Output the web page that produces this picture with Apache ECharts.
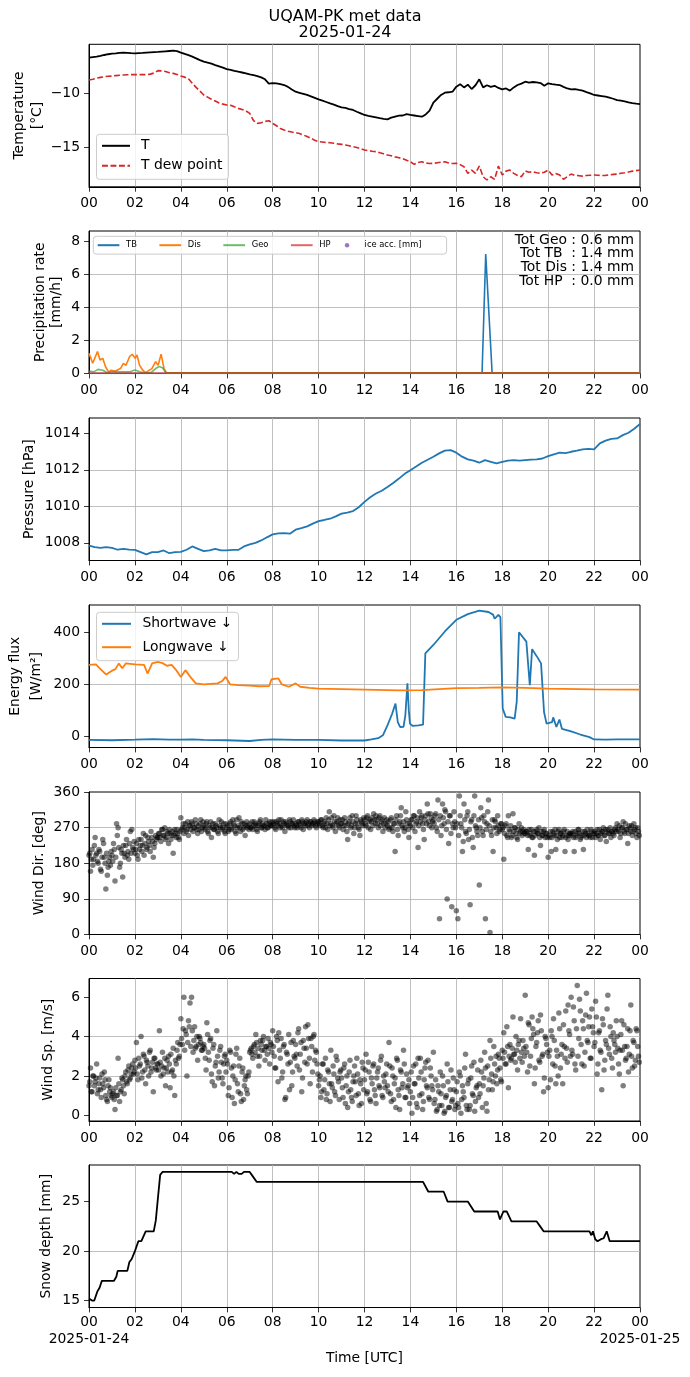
<!DOCTYPE html>
<html>
<head>
<meta charset="utf-8">
<title>UQAM-PK met data</title>
<script src="https://cdn.jsdelivr.net/npm/echarts@6.0.0/dist/echarts.min.js"></script>
<style>
    html, body { margin: 0; padding: 0; background: #fff; }
    #main { width: 690px; height: 1377px; }
</style>
</head>
<body>
<div id="main"></div>
<script>
// values

// air temperature and dew point, 10 min steps from 00:00 [degC]
var tempT = [
    -6.70, -6.65, -6.60, -6.54, -6.45, -6.38,
    -6.33, -6.30, -6.26, -6.23, -6.25, -6.28,
    -6.30, -6.28, -6.26, -6.23, -6.21, -6.19,
    -6.17, -6.14, -6.11, -6.08, -6.05, -6.10,
    -6.23, -6.35, -6.47, -6.60, -6.76, -6.92,
    -7.07, -7.15, -7.25, -7.38, -7.50, -7.62,
    -7.75, -7.83, -7.92, -8.00, -8.07, -8.15,
    -8.24, -8.32, -8.40, -8.52, -8.70, -9.10,
    -9.05, -9.08, -9.15, -9.23, -9.40, -9.65,
    -9.85, -9.95, -10.05, -10.15, -10.28, -10.42,
    -10.56, -10.68, -10.80, -10.93, -11.05, -11.18,
    -11.30, -11.35, -11.45, -11.54, -11.70, -11.85,
    -12.00, -12.08, -12.15, -12.22, -12.30, -12.36,
    -12.41, -12.25, -12.15, -12.07, -12.05, -11.92,
    -12.00, -12.05, -12.10, -12.16, -11.95, -11.60,
    -10.85, -10.50, -10.15, -9.94, -9.90, -9.85,
    -9.38, -9.15, -9.45, -9.20, -9.60, -9.25,
    -8.70, -9.45, -9.25, -9.40, -9.30, -9.50,
    -9.63, -9.55, -9.75, -9.45, -9.23, -9.10,
    -8.92, -9.00, -8.95, -8.98, -9.05, -9.30,
    -9.07, -9.15, -9.20, -9.23, -9.40, -9.55,
    -9.63, -9.60, -9.68, -9.75, -9.88, -10.00,
    -10.15, -10.20, -10.25, -10.31, -10.40, -10.50,
    -10.62, -10.68, -10.75, -10.83, -10.90, -10.95,
    -10.99
];
var tempTd = [
    -8.77, -8.70, -8.60, -8.52, -8.46, -8.42,
    -8.40, -8.36, -8.33, -8.30, -8.28, -8.27,
    -8.27, -8.27, -8.27, -8.27, -8.22, -8.12,
    -7.90, -7.92, -7.98, -8.09, -8.15, -8.25,
    -8.40, -8.50, -8.65, -9.07, -9.45, -9.80,
    -10.15, -10.35, -10.55, -10.71, -10.90, -11.00,
    -11.08, -11.10, -11.25, -11.39, -11.50, -11.62,
    -11.85, -12.53, -12.78, -12.72, -12.60, -12.53,
    -12.78, -13.00, -13.25, -13.40, -13.50, -13.58,
    -13.64, -13.72, -13.85, -14.00, -14.15, -14.35,
    -14.48, -14.50, -14.55, -14.57, -14.62, -14.68,
    -14.72, -14.78, -14.85, -14.94, -15.02, -15.12,
    -15.25, -15.30, -15.36, -15.40, -15.50, -15.60,
    -15.71, -15.78, -15.88, -15.96, -16.05, -16.20,
    -16.33, -16.57, -16.40, -16.33, -16.45, -16.50,
    -16.48, -16.42, -16.38, -16.33, -16.45, -16.50,
    -16.48, -16.60, -16.79, -17.41, -17.10, -17.40,
    -16.73, -17.72, -18.02, -17.72, -17.96, -16.73,
    -17.56, -17.20, -17.10, -17.41, -17.60, -17.72,
    -17.19, -17.30, -17.25, -17.35, -17.40, -17.30,
    -17.10, -17.56, -17.41, -17.55, -17.96, -17.70,
    -17.47, -17.60, -17.62, -17.66, -17.60, -17.58,
    -17.56, -17.58, -17.60, -17.59, -17.55, -17.50,
    -17.47, -17.40, -17.35, -17.28, -17.20, -17.15,
    -17.10
];

// precipitation rate [mm/h], [hour, value]
var precipTB = [[0, 0], [17.12, 0], [17.28, 7.25], [17.56, 0], [24, 0]];
var precipDis = [
    [0, 1.23], [0.16, 0.62], [0.37, 1.33], [0.48, 0.82], [0.6, 0.92], [0.72, 0.41],
    [0.85, 0.1], [0.97, 0.2], [1.13, 0.14], [1.37, 0.3], [1.5, 0.62], [1.61, 0.5],
    [1.77, 1.03], [1.88, 1.17], [2.01, 0.92], [2.09, 1.13], [2.2, 0.51], [2.34, 0.2],
    [2.46, 0.05], [2.74, 0.3], [2.9, 0.72], [3.01, 0.5], [3.14, 1.17], [3.27, 0.3],
    [3.38, 0.04], [24, 0.04]
];
var precipGeo = [
    [0, 0.15], [0.2, 0.1], [0.4, 0.25], [0.6, 0.2], [0.8, 0.05], [1.0, 0.12],
    [1.2, 0.1], [1.5, 0.1], [1.8, 0.1], [2.0, 0.22], [2.2, 0.1], [2.4, 0.05],
    [2.7, 0.05], [2.9, 0.3], [3.05, 0.42], [3.2, 0.35], [3.35, 0.04], [24, 0.03]
];
var precipHP = [[0, 0.03], [24, 0.03]];
var iceAcc = [];
var precipTotals = ["Tot Geo : 0.6 mm", "Tot TB  : 1.4 mm", "Tot Dis : 1.4 mm", "Tot HP  : 0.0 mm"];

// station pressure, 15 min steps [hPa]
var pressure = [
    1007.85, 1007.76, 1007.72, 1007.76,
    1007.72, 1007.62, 1007.67, 1007.63,
    1007.61, 1007.49, 1007.37, 1007.49,
    1007.49, 1007.58, 1007.43, 1007.49,
    1007.50, 1007.62, 1007.80, 1007.67,
    1007.54, 1007.58, 1007.67, 1007.58,
    1007.58, 1007.61, 1007.61, 1007.80,
    1007.91, 1008.00, 1008.13, 1008.30,
    1008.46, 1008.52, 1008.53, 1008.50,
    1008.72, 1008.80, 1008.90, 1009.05,
    1009.19, 1009.25, 1009.32, 1009.45,
    1009.60, 1009.66, 1009.74, 1009.95,
    1010.24, 1010.50, 1010.70, 1010.85,
    1011.06, 1011.28, 1011.52, 1011.78,
    1011.98, 1012.18, 1012.39, 1012.55,
    1012.72, 1012.90, 1013.05, 1013.08,
    1012.94, 1012.72, 1012.57, 1012.50,
    1012.39, 1012.53, 1012.44, 1012.35,
    1012.44, 1012.50, 1012.53, 1012.50,
    1012.53, 1012.56, 1012.57, 1012.62,
    1012.75, 1012.85, 1012.94, 1012.92,
    1012.99, 1013.05, 1013.12, 1013.15,
    1013.12, 1013.45, 1013.60, 1013.70,
    1013.72, 1013.90, 1014.03, 1014.25,
    1014.51
];

// radiation [W/m2], [hour, value]
var shortwave = [
    [0, -15], [1, -16], [2, -14], [2.8, -12], [3.5, -14], [4, -14], [4.5, -13], [5, -15],
    [6, -16], [7, -19], [7.5, -15], [8, -13], [9, -15], [10, -15], [11, -17], [12, -17],
    [12.3, -13], [12.6, -8], [12.8, 3], [13.0, 41], [13.2, 85], [13.35, 125], [13.45, 54],
    [13.55, 35], [13.7, 36], [13.78, 80], [13.87, 203], [13.93, 99], [13.98, 48], [14.1, 39],
    [14.35, 41], [14.55, 44], [14.65, 319], [15.0, 351], [15.5, 403], [16.0, 448], [16.5, 470],
    [17.0, 483], [17.4, 478], [17.6, 468], [17.67, 452], [17.83, 467], [17.92, 458],
    [18.02, 106], [18.15, 74], [18.35, 72], [18.54, 67], [18.63, 132], [18.73, 400],
    [19.05, 364], [19.2, 196], [19.3, 335], [19.5, 308], [19.69, 280], [19.82, 93],
    [19.93, 48], [20.17, 54], [20.22, 72], [20.36, 35], [20.49, 64], [20.6, 28],
    [21.0, 18], [21.4, 6], [21.8, -4], [22.0, -13], [22.5, -14], [23, -13], [24, -13]
];
var longwave = [
    [0, 274], [0.3, 276], [0.5, 258], [0.75, 237], [1.0, 252], [1.15, 258], [1.3, 280],
    [1.45, 261], [1.6, 280], [2.0, 276], [2.4, 274], [2.55, 241], [2.75, 280], [3.0, 286],
    [3.2, 281], [3.4, 271], [3.6, 274], [3.8, 254], [4.0, 228], [4.2, 254], [4.45, 224],
    [4.65, 203], [5.0, 199], [5.6, 203], [5.8, 212], [5.95, 228], [6.15, 199], [6.5, 196],
    [7.0, 194], [7.4, 192], [7.85, 193], [7.95, 219], [8.25, 222], [8.4, 199], [8.7, 190],
    [9.0, 203], [9.2, 190], [9.6, 186], [10, 183], [12, 179], [13.5, 176], [14.5, 177],
    [16, 185], [17, 186], [18, 188], [19, 186], [20, 183], [22, 180], [24, 179]
];

// wind direction [deg], 4 min steps, one row per hour (A: on the 4 min, B: 2 min later)
var windDirA = [
    200, 160, 215, 190, 245, 205, 180, 210, 160, 240, 195, 115, 150, 185, 175,
    200, 230, 135, 280, 270, 170, 215, 145, 205, 225, 200, 190, 260, 265, 215,
    205, 230, 190, 215, 240, 225, 200, 250, 220, 235, 210, 245, 195, 230, 240,
    245, 255, 235, 265, 250, 240, 260, 230, 255, 250, 205, 265, 245, 255, 240,
    295, 270, 255, 280, 265, 250, 275, 285, 260, 270, 280, 255, 265, 290, 270,
    275, 265, 285, 255, 270, 245, 280, 265, 275, 260, 290, 270, 265, 280, 255,
    270, 260, 280, 265, 290, 275, 255, 270, 295, 260, 280, 270, 250, 285, 275,
    280, 270, 265, 285, 275, 260, 280, 290, 270, 275, 265, 280, 270, 285, 275,
    275, 285, 265, 280, 290, 270, 275, 285, 260, 280, 275, 290, 270, 280, 275,
    280, 270, 285, 275, 290, 265, 280, 285, 275, 270, 285, 280, 290, 275, 280,
    285, 275, 290, 270, 280, 295, 265, 310, 280, 275, 300, 260, 285, 275, 290,
    280, 265, 295, 275, 240, 285, 270, 300, 255, 280, 290, 270, 250, 285, 275,
    290, 275, 300, 285, 265, 295, 305, 280, 290, 270, 300, 285, 260, 295, 280,
    275, 265, 290, 270, 280, 210, 300, 250, 285, 320, 270, 260, 310, 280, 245,
    275, 290, 300, 260, 285, 220, 310, 295, 280, 240, 300, 330, 285, 305, 270,
    290, 300, 270, 340, 40, 250, 330, 280, 310, 90, 230, 300, 70, 270, 285,
    60, 40, 350, 280, 210, 330, 260, 300, 240, 75, 290, 220, 350, 270, 250,
    125, 320, 260, 300, 40, 280, 340, 5, 250, 210, 290, 270, 300, 260, 280,
    265, 190, 275, 250, 300, 260, 245, 305, 270, 255, 240, 280, 260, 250, 265,
    255, 260, 215, 250, 265, 245, 200, 260, 255, 270, 225, 250, 260, 245, 255,
    195, 245, 210, 260, 250, 215, 240, 265, 255, 245, 260, 210, 250, 240, 255,
    250, 260, 210, 245, 255, 265, 240, 250, 215, 260, 245, 255, 250, 265, 245,
    255, 245, 265, 250, 240, 260, 270, 250, 235, 265, 255, 245, 260, 250, 270,
    280, 260, 245, 270, 285, 255, 265, 230, 275, 260, 250, 280, 270, 245, 260
];
var windDirB = [
    205, 190, 175, 225, 200, 185, 215, 165, 195, 230, 180, 205, 170, 195, 210,
    185, 215, 195, 250, 220, 180, 205, 225, 195, 240, 210, 230, 205, 220, 235,
    215, 200, 240, 225, 210, 255, 230, 215, 245, 225, 260, 235, 220, 250, 245,
    255, 245, 265, 250, 270, 245, 255, 265, 240, 260, 250, 255, 265, 245, 260,
    265, 280, 270, 260, 285, 275, 265, 280, 270, 290, 265, 275, 280, 260, 285,
    270, 280, 260, 275, 285, 270, 265, 280, 270, 255, 275, 285, 270, 260, 280,
    275, 265, 285, 270, 280, 260, 290, 275, 270, 285, 265, 280, 275, 270, 265,
    270, 285, 275, 280, 265, 275, 285, 270, 280, 275, 290, 270, 280, 275, 285,
    280, 270, 285, 275, 280, 290, 270, 280, 285, 275, 270, 285, 280, 290, 270,
    275, 285, 280, 270, 285, 280, 275, 290, 280, 285, 275, 280, 285, 270, 285,
    280, 290, 275, 285, 270, 280, 290, 275, 295, 270, 285, 280, 295, 270, 280,
    290, 275, 285, 260, 280, 295, 275, 285, 270, 300, 280, 265, 290, 280, 295,
    280, 295, 270, 290, 285, 275, 290, 300, 280, 295, 275, 290, 280, 270, 290,
    285, 270, 295, 260, 280, 290, 265, 280, 300, 275, 285, 270, 290, 265, 280,
    290, 270, 300, 280, 295, 275, 285, 300, 265, 290, 280, 305, 275, 295, 285,
    280, 305, 260, 290, 300, 275, 295, 315, 265, 285, 300, 255, 280, 310, 270,
    280, 250, 300, 270, 235, 290, 255, 310, 265, 285, 245, 300, 275, 260, 290,
    270, 295, 250, 285, 265, 310, 275, 260, 290, 270, 285, 255, 275, 265, 280,
    270, 255, 280, 245, 265, 275, 250, 260, 270, 245, 265, 255, 270, 260, 255,
    260, 250, 265, 255, 245, 260, 250, 265, 255, 245, 260, 250, 265, 255, 245,
    250, 260, 245, 255, 265, 250, 260, 245, 255, 250, 265, 245, 260, 250, 255,
    255, 245, 260, 250, 265, 255, 245, 260, 250, 255, 265, 250, 245, 260, 255,
    260, 255, 250, 265, 255, 260, 250, 265, 260, 255, 270, 260, 255, 265, 260,
    265, 275, 255, 270, 260, 280, 265, 255, 270, 275, 260, 265, 255, 270, 250
];

// wind speed [m/s], same timing as wind direction
var windSpdA = [
    1.5, 2.4, 1.2, 2.0, 1.7, 2.6, 1.3, 1.9, 0.9, 1.6, 2.2, 1.0, 0.7, 1.8, 1.4,
    0.9, 1.2, 0.3, 1.0, 2.9, 0.7, 1.3, 1.8, 1.1, 2.2, 1.6, 2.5, 1.9, 2.4, 2.1,
    2.8, 3.7, 1.8, 2.5, 4.0, 2.2, 3.0, 1.6, 2.7, 2.0, 3.3, 2.4, 1.2, 2.9, 2.3,
    2.6, 4.3, 2.0, 3.2, 2.4, 1.5, 2.8, 3.0, 1.4, 2.2, 3.4, 1.0, 2.6, 3.7, 3.0,
    4.9, 3.6, 6.0, 4.3, 2.0, 4.8, 5.7, 6.0, 3.2, 4.5, 3.5, 2.8, 4.0, 3.7, 3.3,
    3.6, 2.9, 4.7, 3.2, 3.8, 2.1, 3.4, 1.5, 2.7, 3.0, 2.2, 3.5, 1.9, 2.6, 3.1,
    2.8, 1.0, 3.3, 2.4, 2.0, 0.6, 3.1, 1.6, 2.5, 1.1, 2.2, 0.8, 1.8, 1.3, 2.0,
    3.2, 3.4, 2.9, 3.6, 4.1, 3.0, 2.5, 3.8, 3.3, 4.0, 2.8, 3.5, 3.9, 2.6, 3.6,
    4.3, 3.0, 2.4, 3.8, 4.2, 2.9, 1.9, 3.5, 0.8, 3.2, 2.6, 1.3, 3.7, 2.2, 3.0,
    3.6, 2.5, 4.4, 3.1, 1.2, 3.8, 2.7, 3.4, 4.6, 2.9, 3.9, 2.2, 4.1, 3.3, 2.6,
    1.5, 2.0, 1.2, 2.6, 1.8, 0.8, 2.3, 1.6, 3.3, 1.4, 2.1, 1.0, 2.8, 1.7, 2.2,
    1.9, 0.9, 2.6, 1.5, 0.4, 2.2, 1.3, 0.7, 2.0, 1.7, 2.9, 1.1, 1.8, 0.6, 2.4,
    1.8, 3.1, 1.2, 2.2, 0.7, 1.6, 2.6, 1.0, 1.9, 2.4, 1.4, 3.0, 0.9, 1.7, 2.1,
    1.5, 3.7, 1.1, 2.4, 0.8, 1.9, 2.9, 1.3, 0.3, 2.2, 1.6, 2.6, 0.9, 1.4, 1.8,
    1.2, 0.1, 2.5, 1.6, 0.6, 2.9, 1.0, 2.2, 0.3, 1.8, 2.7, 1.4, 0.9, 2.4, 1.5,
    3.2, 0.8, 0.2, 1.5, 0.5, 1.1, 2.0, 0.1, 0.9, 2.6, 0.4, 1.3, 0.7, 1.9, 0.3,
    1.2, 0.6, 2.2, 0.1, 1.5, 0.9, 3.1, 0.3, 1.8, 0.5, 2.5, 1.0, 0.2, 1.4, 2.3,
    1.6, 2.8, 0.4, 1.9, 2.4, 0.2, 1.3, 3.8, 2.1, 1.7, 2.6, 3.0, 2.3, 2.9, 1.8,
    3.3, 4.2, 2.6, 4.5, 1.4, 3.6, 2.9, 5.0, 3.1, 4.0, 2.3, 3.8, 4.9, 2.7, 3.4,
    6.1, 3.2, 4.7, 2.5, 3.9, 4.4, 1.6, 3.5, 4.2, 2.8, 5.1, 3.0, 1.2, 4.0, 3.6,
    1.4, 3.3, 4.3, 2.6, 3.8, 1.6, 3.0, 5.2, 2.4, 3.6, 4.6, 2.9, 3.4, 5.6, 4.1,
    6.0, 3.1, 4.8, 2.3, 6.6, 3.9, 5.3, 2.6, 4.4, 3.2, 6.2, 3.7, 5.0, 2.9, 4.5,
    3.5, 5.8, 2.1, 4.2, 3.3, 1.3, 4.6, 2.8, 3.6, 6.1, 3.1, 4.0, 2.4, 3.8, 3.2,
    4.0, 2.6, 3.3, 4.8, 1.5, 3.5, 2.9, 4.4, 3.1, 5.6, 2.4, 3.7, 2.8, 4.3, 3.0
];
var windSpdB = [
    1.7, 1.2, 2.0, 1.5, 1.9, 1.1, 1.6, 1.3, 2.1, 1.4, 1.8, 0.8, 1.5, 1.2, 1.0,
    1.1, 0.8, 1.4, 1.0, 1.6, 1.2, 1.9, 1.5, 2.0, 1.7, 2.3, 1.8, 2.1, 2.6, 2.2,
    2.4, 2.1, 2.9, 2.6, 1.9, 3.1, 2.3, 2.8, 2.5, 3.2, 2.2, 2.7, 2.9, 2.4, 2.6,
    2.3, 2.7, 2.5, 2.1, 2.9, 2.4, 2.2, 2.6, 3.1, 2.3, 2.0, 2.8, 3.3, 2.9, 3.6,
    3.9, 4.4, 3.3, 4.1, 3.7, 4.5, 3.5, 4.3, 3.8, 3.4, 4.0, 3.6, 3.9, 3.3, 3.5,
    3.4, 2.3, 4.1, 2.8, 3.9, 1.7, 3.6, 2.5, 4.3, 1.9, 3.3, 2.7, 1.6, 3.0, 2.2,
    2.6, 1.4, 3.2, 0.9, 2.5, 1.8, 3.4, 1.2, 2.9, 0.7, 2.4, 1.5, 2.0, 1.1, 2.2,
    3.3, 3.1, 3.5, 3.2, 3.7, 3.4, 3.0, 3.6, 3.8, 3.3, 3.5, 3.1, 3.4, 3.7, 3.2,
    3.5, 2.4, 4.0, 1.7, 3.3, 3.9, 2.2, 3.6, 0.9, 3.1, 4.1, 2.7, 1.5, 3.8, 2.9,
    3.1, 4.2, 2.3, 3.7, 1.9, 3.4, 4.5, 2.6, 3.9, 1.6, 3.5, 4.0, 2.8, 3.2, 2.1,
    1.8, 0.9, 2.6, 1.3, 2.9, 1.1, 2.2, 0.7, 1.6, 2.5, 1.2, 3.0, 1.9, 0.8, 2.3,
    1.4, 2.4, 0.6, 2.0, 1.2, 2.8, 0.9, 1.7, 2.5, 1.0, 2.1, 0.5, 1.6, 2.7, 1.3,
    2.3, 1.1, 2.7, 0.8, 1.9, 2.5, 1.3, 0.6, 2.2, 1.5, 2.8, 1.0, 2.0, 1.4, 2.6,
    1.2, 2.5, 0.7, 2.0, 1.6, 0.4, 2.8, 1.0, 2.3, 1.4, 3.3, 0.9, 2.1, 1.5, 0.6,
    2.2, 0.9, 1.6, 2.6, 0.4, 1.9, 2.9, 1.1, 0.7, 2.4, 1.5, 2.8, 0.8, 2.0, 1.3,
    0.6, 1.8, 0.3, 1.2, 2.2, 0.5, 1.5, 0.2, 1.0, 1.7, 0.4, 2.3, 0.8, 1.3, 0.5,
    1.7, 0.4, 2.0, 0.8, 1.2, 2.4, 0.5, 1.6, 0.3, 1.9, 1.1, 2.7, 0.7, 1.5, 0.9,
    1.1, 2.2, 1.5, 3.2, 0.6, 2.5, 1.8, 2.9, 1.3, 3.5, 2.0, 1.6, 3.1, 2.4, 1.7,
    2.9, 3.2, 2.6, 3.5, 3.0, 2.8, 3.4, 3.1, 2.7, 3.3, 3.6, 2.9, 3.2, 3.8, 3.0,
    3.5, 2.2, 4.6, 3.0, 5.0, 4.1, 2.4, 3.7, 4.8, 2.7, 4.3, 3.1, 1.9, 3.9, 3.2,
    3.0, 1.8, 4.0, 4.9, 2.5, 3.3, 2.0, 4.4, 3.1, 1.6, 3.5, 5.3, 2.7, 4.3, 3.0,
    3.3, 5.5, 2.6, 4.4, 3.0, 5.9, 3.6, 4.8, 2.5, 5.1, 3.8, 4.5, 2.9, 5.4, 4.2,
    3.7, 5.0, 2.6, 4.3, 3.2, 4.9, 2.3, 3.8, 5.4, 3.4, 4.5, 2.9, 4.2, 3.6, 4.8,
    3.4, 2.1, 4.1, 3.3, 4.6, 2.8, 3.5, 2.2, 4.3, 3.0, 3.8, 2.5, 4.4, 3.5, 2.7
];

// snow depth [mm], [hour, value]
var snowDepth = [
    [0, 15.2], [0.13, 15.0], [0.23, 15.0], [0.36, 15.9], [0.46, 16.3], [0.56, 17.0],
    [1.09, 17.0], [1.19, 17.4], [1.25, 18.0], [1.67, 18.0], [1.76, 18.9], [1.86, 19.2],
    [2.0, 20.0], [2.05, 20.2], [2.15, 21.0], [2.28, 21.0], [2.47, 22.0], [2.82, 22.0],
    [2.91, 23.1], [3.0, 25.3], [3.1, 27.7], [3.2, 28.0], [6.05, 28.0], [6.12, 27.85],
    [6.22, 28.0], [6.32, 27.8], [6.42, 28.0], [6.52, 27.8], [6.65, 27.8], [6.75, 28.0],
    [7.0, 28.0], [7.12, 27.6], [7.3, 27.0], [14.55, 27.0], [14.78, 26.0], [15.45, 26.0],
    [15.62, 25.0], [16.5, 25.0], [16.78, 24.0], [17.8, 24.0], [17.9, 23.2], [18.05, 24.0],
    [18.2, 24.0], [18.4, 23.0], [19.5, 23.0], [19.62, 22.6], [19.8, 22.0], [21.8, 22.0],
    [21.88, 21.6], [21.95, 22.0], [22.05, 21.2], [22.15, 21.0], [22.3, 21.2], [22.42, 21.3],
    [22.55, 22.0], [22.68, 21.0], [24, 21.0]
];

// y ranges and tick values of each panel
var yMin = [-18.65, 0, 1007.03, -44, 0, -0.29, 14.3];
var yMax = [-5.46, 8.65, 1014.84, 505, 360, 6.95, 28.7];
var yTicks = [
    [-15, -10],
    [0, 2, 4, 6, 8],
    [1008, 1010, 1012, 1014],
    [0, 200, 400],
    [0, 90, 180, 270, 360],
    [0, 2, 4, 6],
    [15, 20, 25]
];
var yNames = [
    "Temperature\n[°C]",
    "Precipitation rate\n[mm/h]",
    "Pressure [hPa]",
    "Energy flux\n[W/m²]",
    "Wind Dir. [deg]",
    "Wind Sp. [m/s]",
    "Snow depth [mm]"
];
var firstDay = "2025-01-24";
var nextDay = "2025-01-25";


var FONT = "DejaVu Sans";
var GRID_COLOR = "#b0b0b0";
var gridTops = [44.3, 231, 418, 605, 792, 978.5, 1165];
var nameGaps = [43, 24, 51, 42, 41.5, 32.2, 33.8];
var nameLineHeights = [17.6, 16.7, 17, 21, 17, 17, 17];
var LAST = gridTops.length - 1;

function stepped(values, perHour, offset) {
    return values.map(function (v, i) {
        return [(i + (offset || 0)) / perHour, v];
    });
}

function hourLabel(v) {
    var h = v % 24;
    return (h < 10 ? "0" : "") + h;
}

function tickLabel(v) {
    return String(v).replace("-", "\u2212");
}

function makeXAxis(i) {
    var last = i === LAST;
    return {
        type: "value",
        gridIndex: i,
        min: 0,
        max: 24,
        interval: 2,
        axisLine: { show: true, onZero: false, lineStyle: { color: "#000", width: 1 } },
        axisTick: { show: true, length: 4.9, lineStyle: { color: "#000", width: 0.8 } },
        axisLabel: {
            margin: last ? 7.7 : 10,
            showMinLabel: true,
            showMaxLabel: true,
            fontFamily: FONT,
            fontSize: 13.9,
            color: "#000",
            formatter: hourLabel,
        },
        splitLine: {
            show: true,
            showMinLine: false,
            showMaxLine: false,
            lineStyle: { color: GRID_COLOR, width: 0.8 },
        },
        name: last ? "Time [UTC]" : "",
        nameLocation: "middle",
        nameGap: 44,
        nameMoveOverlap: false,
        nameTextStyle: { fontFamily: FONT, fontSize: 13.9, color: "#000" },
    };
}

// second row under the last panel: the dates at both ends
var dateAxis = {
    type: "value",
    gridIndex: LAST,
    position: "bottom",
    offset: 17.3,
    min: 0,
    max: 24,
    axisLine: { show: false },
    axisTick: { show: false },
    splitLine: { show: false },
    axisLabel: {
        margin: 7.7,
        customValues: [0, 24],
        showMinLabel: true,
        showMaxLabel: true,
        fontFamily: FONT,
        fontSize: 13.9,
        color: "#000",
        formatter: function (v) { return v === 0 ? firstDay : nextDay; },
    },
};

function makeYAxis(i) {
    return {
        type: "value",
        gridIndex: i,
        min: yMin[i],
        max: yMax[i],
        axisLine: { show: true, onZero: false, lineStyle: { color: "#000", width: 1 } },
        axisTick: {
            show: true,
            length: 4.9,
            customValues: yTicks[i],
            lineStyle: { color: "#000", width: 0.8 },
        },
        axisLabel: {
            margin: 9,
            customValues: yTicks[i],
            showMinLabel: true,
            showMaxLabel: true,
            fontFamily: FONT,
            fontSize: 13.9,
            color: "#000",
            formatter: tickLabel,
        },
        splitLine: {
            show: true,
            showMinLine: false,
            showMaxLine: false,
            lineStyle: { color: GRID_COLOR, width: 0.8 },
        },
        name: yNames[i],
        nameLocation: "middle",
        nameRotate: 90,
        nameGap: nameGaps[i],
        nameMoveOverlap: false,
        nameTextStyle: {
            fontFamily: FONT,
            fontSize: 13.9,
            color: "#000",
            lineHeight: nameLineHeights[i],
        },
    };
}

function lineSeries(name, panel, data, color, width, dash) {
    return {
        name: name,
        type: "line",
        xAxisIndex: panel,
        yAxisIndex: panel,
        data: data,
        symbol: "none",
        color: color,
        lineStyle: { color: color, width: width, type: dash || "solid" },
        emphasis: { disabled: true },
    };
}

function scatterSeries(name, panel, data) {
    return {
        name: name,
        type: "scatter",
        xAxisIndex: panel,
        yAxisIndex: panel,
        data: data,
        symbol: "circle",
        symbolSize: 5.5,
        itemStyle: { color: "#000", opacity: 0.5 },
        emphasis: { disabled: true },
    };
}

function legendBox(extra) {
    return Object.assign({
        backgroundColor: "rgba(255,255,255,0.8)",
        borderColor: "#cccccc",
        borderWidth: 1,
        borderRadius: 3,
        selectedMode: false,
    }, extra);
}

var chart = echarts.init(document.getElementById("main"), null, { renderer: "canvas" });

var options = {
    animation: false,
    backgroundColor: "#fff",
    title: {
        text: "UQAM-PK met data\n" + firstDay,
        left: "center",
        top: 8.7,
        padding: 0,
        textStyle: {
            fontFamily: FONT,
            fontSize: 16,
            fontWeight: "normal",
            lineHeight: 16,
            color: "#000",
        },
    },
    grid: gridTops.map(function (top) {
        return {
            left: 89,
            right: 50,
            top: top,
            height: 142.5,
            show: true,
            borderColor: "#000",
            borderWidth: 1,
            backgroundColor: "transparent",
            containLabel: false,
            outerBoundsMode: "none",
        };
    }),
    xAxis: gridTops.map(function (_, i) { return makeXAxis(i); }).concat([dateAxis]),
    yAxis: gridTops.map(function (_, i) { return makeYAxis(i); }),
    legend: [
        // line handles: a tiny itemHeight keeps only the line in the icon
        legendBox({
            data: ["T", "T dew point"],
            orient: "vertical",
            left: 96.5,
            top: 134.3,
            itemWidth: 28,
            itemHeight: 0.1,
            itemGap: 6,
            padding: [4.5, 6, 6.5, 4.5],
            textStyle: { fontFamily: FONT, fontSize: 13.9, lineHeight: 14, color: "#000", padding: [0, 0, 0, 6] },
        }),
        legendBox({
            data: ["TB", "Dis", "Geo", "HP"],
            orient: "horizontal",
            left: 93.3,
            top: 236.3,
            itemWidth: 21.7,
            itemHeight: 0.1,
            itemGap: 21.5,
            padding: [4.4, 116, 4.4, 3.4],
            textStyle: { fontFamily: FONT, fontSize: 8.33, lineHeight: 9, color: "#000", padding: [0, 0, 0, 1.7] },
        }),
        {
            data: ["ice acc. [mm]"],
            orient: "horizontal",
            left: 344.8,
            top: 240.7,
            z: 5,
            itemWidth: 21.7,
            itemHeight: 4.5,
            padding: 0,
            selectedMode: false,
            textStyle: { fontFamily: FONT, fontSize: 8.33, lineHeight: 9, color: "#000", padding: [0, 0, 0, 1.7] },
        },
        legendBox({
            data: ["Shortwave ↓", "Longwave ↓"],
            orient: "vertical",
            left: 96.5,
            top: 612.3,
            itemWidth: 29,
            itemHeight: 0.1,
            itemGap: 9.4,
            padding: [4.5, 6, 6.5, 4.5],
            textStyle: { fontFamily: FONT, fontSize: 13.9, lineHeight: 14, color: "#000", padding: [0, 0, 0, 6.5] },
        }),
    ],
    graphic: [{
        type: "text",
        x: 634,
        y: 233.2,
        z: 10,
        style: {
            text: precipTotals.join("\n"),
            fontFamily: FONT,
            fontSize: 13.9,
            lineHeight: 13.7,
            align: "right",
            verticalAlign: "top",
            fill: "#000",
        },
    }],
    series: [
        lineSeries("T", 0, stepped(tempT, 6), "#000000", 1.8),
        lineSeries("T dew point", 0, stepped(tempTd, 6), "#d62728", 1.6, [5.9, 2.6]),

        lineSeries("TB", 1, precipTB, "#1f77b4", 1.6),
        lineSeries("Dis", 1, precipDis, "#ff7f0e", 1.6),
        lineSeries("Geo", 1, precipGeo, "rgba(44,160,44,0.7)", 1.6),
        lineSeries("HP", 1, precipHP, "rgba(214,39,40,0.7)", 1.6),
        {
            name: "ice acc. [mm]",
            type: "scatter",
            xAxisIndex: 1,
            yAxisIndex: 1,
            data: iceAcc,
            symbol: "circle",
            itemStyle: { color: "#9467bd", opacity: 0.9 },
        },

        lineSeries("Pressure", 2, stepped(pressure, 4), "#1f77b4", 1.8),

        lineSeries("Shortwave ↓", 3, shortwave, "#1f77b4", 1.8),
        lineSeries("Longwave ↓", 3, longwave, "#ff7f0e", 1.8),

        scatterSeries("Wind direction", 4, stepped(windDirA, 15)),
        scatterSeries("Wind direction ", 4, stepped(windDirB, 15, 0.5)),
        scatterSeries("Wind speed", 5, stepped(windSpdA, 15)),
        scatterSeries("Wind speed ", 5, stepped(windSpdB, 15, 0.5)),

        lineSeries("Snow depth", 6, snowDepth, "#000000", 1.8),
    ],
};

chart.setOption(options);

window.onresize = function () {
    chart.resize();
};
</script>
</body>
</html>
